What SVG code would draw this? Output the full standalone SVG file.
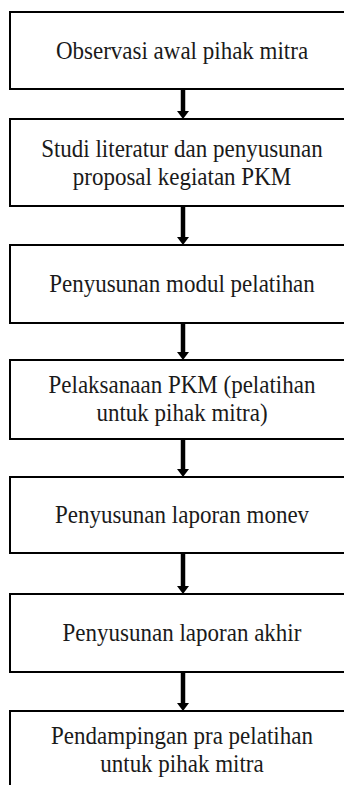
<svg xmlns="http://www.w3.org/2000/svg" width="344" height="785" viewBox="0 0 344 785">
  <defs>
    <style>
      .box { fill: #ffffff; stroke: #000000; stroke-width: 2; }
      .label { font-family: "Liberation Serif", "Times New Roman", serif; font-size: 25px; fill: #1a1a1a; text-anchor: middle; }
      .link { stroke: #000000; stroke-width: 4.5; fill: none; marker-end: url(#head); }
    </style>
    <!-- arrowhead drawn along +x, rotated to the line direction -->
    <marker id="head" viewBox="0 0 8 12" refX="2" refY="6" markerWidth="8" markerHeight="12" markerUnits="userSpaceOnUse" orient="auto">
      <path d="M0,0 L8,6 L0,12 Z" fill="#000000"/>
    </marker>
  </defs>
  <rect width="344" height="785" fill="#ffffff"/>

  <!-- connectors: thick downward arrows between steps -->
  <g id="connectors">
    <path class="link" d="M183,89 V113"/>
    <path class="link" d="M183,206 V239"/>
    <path class="link" d="M183,323 V354"/>
    <path class="link" d="M183,439 V471"/>
    <path class="link" d="M183,553 V588"/>
    <path class="link" d="M183,672 V705"/>
  </g>

  <!-- labels are slightly condensed horizontally around the centre line x=182 -->
  <g id="step1">
    <rect class="box" x="10" y="12" width="345" height="77"/>
    <text class="label" x="182" y="59" transform="matrix(0.92,0,0,1,14.56,0)">Observasi awal pihak mitra</text>
  </g>
  <g id="step2">
    <rect class="box" x="10" y="119" width="345" height="87"/>
    <text class="label" x="182" y="157" transform="matrix(0.92,0,0,1,14.56,0)">Studi literatur dan penyusunan</text>
    <text class="label" x="182" y="185" transform="matrix(0.92,0,0,1,14.56,0)">proposal kegiatan PKM</text>
  </g>
  <g id="step3">
    <rect class="box" x="10" y="245" width="345" height="78"/>
    <text class="label" x="182" y="292" transform="matrix(0.92,0,0,1,14.56,0)">Penyusunan modul pelatihan</text>
  </g>
  <g id="step4">
    <rect class="box" x="10" y="360" width="345" height="79"/>
    <text class="label" x="182" y="393" transform="matrix(0.92,0,0,1,14.56,0)">Pelaksanaan PKM (pelatihan</text>
    <text class="label" x="182" y="421" transform="matrix(0.92,0,0,1,14.56,0)">untuk pihak mitra)</text>
  </g>
  <g id="step5">
    <rect class="box" x="10" y="477" width="345" height="76"/>
    <text class="label" x="182" y="523" transform="matrix(0.92,0,0,1,14.56,0)">Penyusunan laporan monev</text>
  </g>
  <g id="step6">
    <rect class="box" x="10" y="594" width="345" height="78"/>
    <text class="label" x="182" y="641" transform="matrix(0.92,0,0,1,14.56,0)">Penyusunan laporan akhir</text>
  </g>
  <g id="step7">
    <rect class="box" x="10" y="711" width="345" height="90"/>
    <text class="label" x="182" y="744" transform="matrix(0.92,0,0,1,14.56,0)">Pendampingan pra pelatihan</text>
    <text class="label" x="182" y="772" transform="matrix(0.92,0,0,1,14.56,0)">untuk pihak mitra</text>
  </g>
</svg>
